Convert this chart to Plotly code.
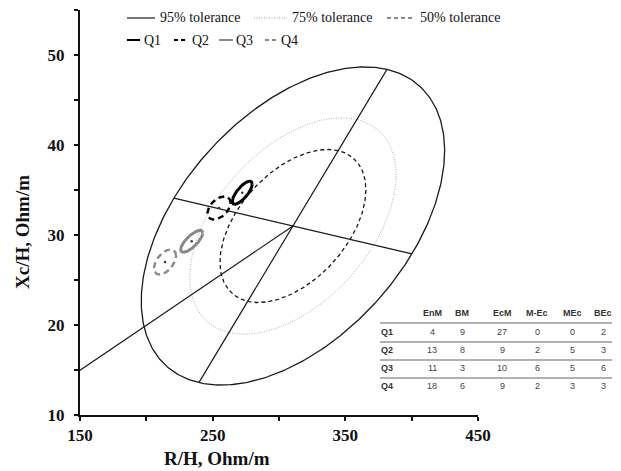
import numpy as np
import plotly.graph_objects as go

# ---------------- data ----------------
# Reference tolerance ellipse (R/H, Xc/H)
ref_center = [310.5, 31.0]
ref_major_half = [70.9, 17.4]     # 95% ellipse half-diameter along the long line
ref_minor_half = [-89.7, 3.1]     # 95% ellipse half-diameter along the short line
tolerance_labels = ["95% tolerance", "75% tolerance", "50% tolerance"]
tolerance_levels = [0.95, 0.75, 0.50]

# Group confidence ellipses
groups = ["Q1", "Q2", "Q3", "Q4"]
group_r = [272.3, 254.8, 234.2, 214.1]      # mean R/H
group_xc = [34.7, 33.0, 29.3, 27.0]         # mean Xc/H
group_half_r = [7.5, 8.7, 8.3, 8.3]         # half width (R/H)
group_half_xc = [1.28, 1.28, 1.22, 1.39]    # half height (Xc/H)
group_corr = [0.75, 0.45, 0.75, 0.50]

# Table
table_columns = ["EnM", "BM", "EcM", "M-Ec", "MEc", "BEc"]
q1_counts = [4, 9, 27, 0, 0, 2]
q2_counts = [13, 8, 9, 2, 5, 3]
q3_counts = [11, 3, 10, 6, 5, 6]
q4_counts = [18, 6, 9, 2, 3, 3]
table_rows = [q1_counts, q2_counts, q3_counts, q4_counts]

x_ticks = [150, 250, 350, 450]
y_ticks = [10, 20, 30, 40, 50]

# ---------------- layout helpers ----------------
W, H = 621, 471
L, R, T, B = 80, 143, 10, 56
PW, PH = W - L - R, H - T - B

def px(xp):
    return (xp - L) / PW

def py(yp):
    return (H - B - yp) / PH

SERIF = "Liberation Serif, Times New Roman, serif"
SANS = "Liberation Sans, Arial, sans-serif"

fig = go.Figure()

# tolerance ellipses
t = np.linspace(0, 2 * np.pi, 400)
k95 = np.sqrt(-2 * np.log(1 - 0.95))
tol_styles = [dict(color="#1a1a1a", width=1.3, dash="solid"),
              dict(color="#b0b0b0", width=1.0, dash="1px,1.5px"),
              dict(color="#1a1a1a", width=1.3, dash="4px,3px")]
for lvl, st in zip(tolerance_levels, tol_styles):
    s = np.sqrt(-2 * np.log(1 - lvl)) / k95
    ex = ref_center[0] + s * (ref_major_half[0] * np.cos(t) + ref_minor_half[0] * np.sin(t))
    ey = ref_center[1] + s * (ref_major_half[1] * np.cos(t) + ref_minor_half[1] * np.sin(t))
    fig.add_trace(go.Scatter(x=ex, y=ey, mode="lines", line=st, hoverinfo="skip", showlegend=False))

# axes of the 95% ellipse
line_st = dict(color="#1a1a1a", width=1.2)
for hv in (ref_major_half, ref_minor_half):
    fig.add_trace(go.Scatter(x=[ref_center[0] - hv[0], ref_center[0] + hv[0]],
                             y=[ref_center[1] - hv[1], ref_center[1] + hv[1]],
                             mode="lines", line=line_st, showlegend=False, hoverinfo="skip"))
# line from the origin to the ellipse centre
fig.add_trace(go.Scatter(x=[0, ref_center[0]], y=[0, ref_center[1]], mode="lines",
                         line=line_st, showlegend=False, hoverinfo="skip"))

# group ellipses
g_styles = [dict(color="#000000", width=3, dash="solid"),
            dict(color="#000000", width=2.4, dash="6px,4px"),
            dict(color="#8a8a8a", width=3, dash="solid"),
            dict(color="#8a8a8a", width=2.4, dash="6px,4px")]
for i, g in enumerate(groups):
    rr = group_corr[i]
    gx = group_r[i] + group_half_r[i] * np.cos(t)
    gy = group_xc[i] + group_half_xc[i] * (rr * np.cos(t) + np.sqrt(1 - rr ** 2) * np.sin(t))
    fig.add_trace(go.Scatter(x=gx, y=gy, mode="lines", line=g_styles[i], name=g,
                             showlegend=False, hoverinfo="skip"))
fig.add_trace(go.Scatter(x=group_r, y=group_xc, mode="markers",
                         marker=dict(size=2.5, color="#333333"), showlegend=False, hoverinfo="skip"))

shapes = []
annotations = []

# legend (manual)
leg1_line = [(127, 155), (254, 287), (387, 414)]
leg1_text = [158, 290, 418]
leg_y1, leg_y2 = 18, 40
for (a, b), tx, lab, st in zip(leg1_line, leg1_text, tolerance_labels, tol_styles):
    shapes.append(dict(type="line", xref="paper", yref="paper", x0=px(a), x1=px(b),
                       y0=py(leg_y1), y1=py(leg_y1),
                       line=dict(color=st["color"] if st["width"] > 1.1 else "#999999",
                                 width=1.2, dash=st["dash"])))
    annotations.append(dict(xref="paper", yref="paper", x=px(tx), y=py(leg_y1), text=lab,
                            showarrow=False, xanchor="left", yanchor="middle",
                            font=dict(family=SERIF, size=14, color="#111")))
leg2_line = [(127, 140), (174, 188), (219, 233), (265, 277)]
leg2_text = [142, 190, 234, 279]
leg2_dash = ["solid", "4px,3px", "solid", "4px,3px"]
for (a, b), tx, lab, st, dd in zip(leg2_line, leg2_text, groups, g_styles, leg2_dash):
    shapes.append(dict(type="line", xref="paper", yref="paper", x0=px(a), x1=px(b),
                       y0=py(leg_y2), y1=py(leg_y2),
                       line=dict(color=st["color"], width=2 if dd == "solid" else 1.8, dash=dd)))
    annotations.append(dict(xref="paper", yref="paper", x=px(tx), y=py(leg_y2), text=lab,
                            showarrow=False, xanchor="left", yanchor="middle",
                            font=dict(family=SERIF, size=14, color="#111")))

# table
col_x = [432, 462, 502, 537, 572, 603]
row_label_x = 387
header_y = 313
row_y = [332, 350, 368, 386]
sep_y = [323, 342, 360, 378]
for cx, c in zip(col_x, table_columns):
    annotations.append(dict(xref="paper", yref="paper", x=px(cx), y=py(header_y), text="<b>%s</b>" % c,
                            showarrow=False, xanchor="center", yanchor="middle",
                            font=dict(family=SANS, size=9, color="#333")))
for ry, g, vals in zip(row_y, groups, table_rows):
    annotations.append(dict(xref="paper", yref="paper", x=px(row_label_x), y=py(ry), text="<b>%s</b>" % g,
                            showarrow=False, xanchor="center", yanchor="middle",
                            font=dict(family=SANS, size=9, color="#333")))
    for cx, v in zip(col_x, vals):
        annotations.append(dict(xref="paper", yref="paper", x=px(cx), y=py(ry), text=str(v),
                                showarrow=False, xanchor="center", yanchor="middle",
                                font=dict(family=SANS, size=9, color="#444")))
for sy in sep_y:
    shapes.append(dict(type="line", xref="paper", yref="paper", x0=px(380), x1=px(612),
                       y0=py(sy), y1=py(sy), line=dict(color="#999999", width=1.5)))

# axis titles
annotations.append(dict(xref="paper", yref="paper", x=px(217), y=py(458), text="<b>R/H, Ohm/m</b>",
                        showarrow=False, xanchor="center", yanchor="middle",
                        font=dict(family=SERIF, size=19, color="#111")))
annotations.append(dict(xref="paper", yref="paper", x=px(22), y=py(232), text="<b>Xc/H, Ohm/m</b>",
                        showarrow=False, xanchor="center", yanchor="middle", textangle=-90,
                        font=dict(family=SERIF, size=19, color="#111")))

axis_common = dict(showgrid=False, zeroline=False, showline=True, linecolor="#111", linewidth=2,
                   ticks="outside", ticklen=4, tickwidth=2, tickcolor="#111",
                   tickfont=dict(family=SERIF, size=17, color="#111", weight="bold"))
fig.update_layout(
    width=W, height=H, margin=dict(l=L, r=R, t=T, b=B),
    paper_bgcolor="white", plot_bgcolor="white",
    xaxis=dict(range=[150, 450], tickvals=x_ticks, ticktext=[str(v) for v in x_ticks],
               minor=dict(dtick=50, tick0=150, ticklen=4, tickwidth=2, tickcolor="#111", ticks="outside"),
               **axis_common),
    yaxis=dict(range=[10, 55], tickvals=y_ticks, ticktext=[str(v) for v in y_ticks],
               minor=dict(dtick=5, tick0=10, ticklen=4, tickwidth=2, tickcolor="#111", ticks="outside"),
               ticklabelstandoff=6,
               **axis_common),
    shapes=shapes, annotations=annotations, showlegend=False,
)

fig.write_html("out.html")
